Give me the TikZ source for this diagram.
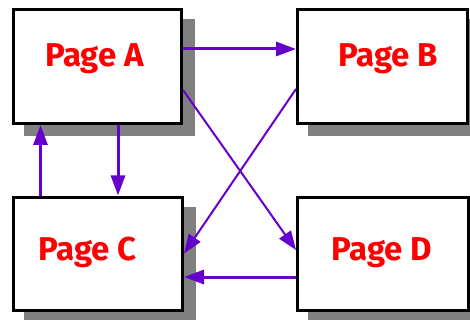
\documentclass[tikz,border=0pt]{standalone}
\usepackage{fontspec}
\setmainfont{Fira Sans}
\usetikzlibrary{arrows.meta,calc}
\definecolor{linkpurple}{RGB}{102,0,204}
\definecolor{pagered}{RGB}{255,0,0}
\definecolor{shadowgray}{RGB}{128,128,128}
\tikzset{
  pagebox/.style={draw=black, line width=3pt, fill=white, inner sep=0pt,
    minimum height=114pt},
  pagelabel/.style={anchor=base, text=pagered, font=\fontsize{33}{38}\selectfont\bfseries, inner sep=0pt},
  biglink/.style={draw=linkpurple, line width=3pt, -{Triangle[length=20pt,width=14pt]}},
  crosslink/.style={draw=linkpurple, line width=2pt, -{Triangle[length=19pt,width=14pt]}},
}
\newcommand{\pageshadow}[1]{%
  \fill[shadowgray] ($(#1.south west)+(12,11)$) rectangle ($(#1.north east)+(12,11)$);}
\begin{document}
\begin{tikzpicture}[x=1pt,y=-1pt]
  \useasboundingbox (0,0) rectangle (470,320);
  % page boxes
  \node[pagebox, minimum width=168pt] (A) at (97.5,66.5) {};
  \node[pagebox, minimum width=170pt] (B) at (382.5,66.5) {};
  \node[pagebox, minimum width=169pt, minimum height=113pt] (C) at (98,253.5) {};
  \node[pagebox, minimum width=170.5pt, minimum height=113pt] (D) at (382.75,254) {};
  % shadows behind the boxes, then the boxes again on top
  \pageshadow{A}\pageshadow{B}\pageshadow{C}\pageshadow{D}
  \node[pagebox, minimum width=168pt] at (A) {};
  \node[pagebox, minimum width=170pt] at (B) {};
  \node[pagebox, minimum width=169pt, minimum height=113pt] at (C) {};
  \node[pagebox, minimum width=170.5pt, minimum height=113pt] at (D) {};
  % labels
  \node[pagelabel] (la) at (94.5,67) {Page A};
  \node[pagelabel] (lb) at (388,67) {Page B};
  \node[pagelabel] (lc) at (87.5,260) {Page C};
  \node[pagelabel] (ld) at (382,260) {Page D};
  % links
  \draw[biglink] ([yshift=17.5pt]A.east) -- ([yshift=17.5pt]B.west);
  \draw[biglink] ([xshift=-57pt]A.south |- C.north) -- ([xshift=-57pt]A.south);
  \draw[biglink] ([xshift=20.5pt]A.south) -- ([xshift=20.5pt]A.south |- C.north);
  \draw[biglink] ([yshift=-23pt]D.west) -- ([yshift=-23pt]D.west -| C.east);
  \draw[crosslink] ([yshift=-23.5pt]A.east) -- ([yshift=4pt]D.west);
  \draw[crosslink] ([yshift=-22.5pt]B.west) -- (C.east);
\end{tikzpicture}
\end{document}
